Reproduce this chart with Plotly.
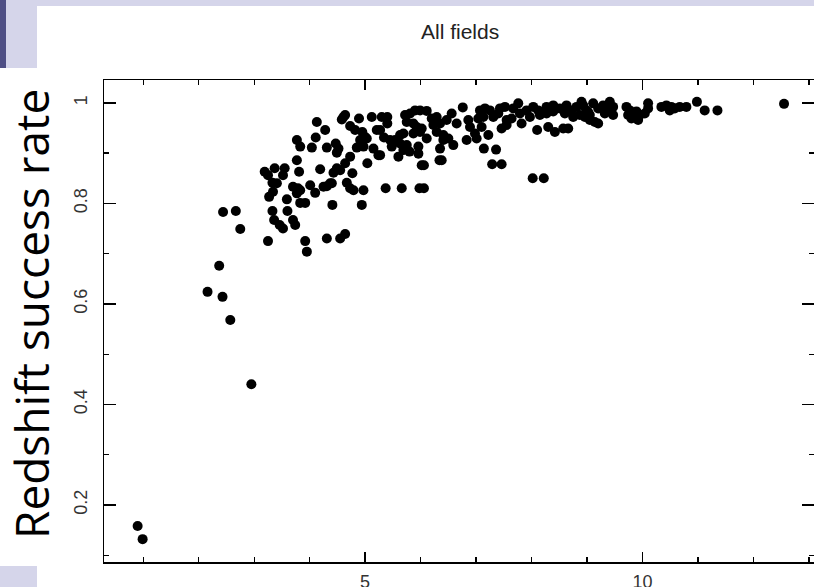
import plotly.graph_objects as go

# ---- data ----
x_vals = [
    0.90, 0.99,
    2.16, 2.37, 2.43, 2.57, 2.95, 2.44, 2.67, 2.75,
    3.25, 3.19, 3.37, 3.25, 3.55, 3.52, 3.33, 3.41, 3.27, 3.34, 3.59, 3.33, 3.60, 3.36, 3.46, 3.52,
    3.70, 3.74, 3.77, 3.81, 3.70, 3.79, 3.77, 3.83, 3.83, 3.92, 3.92, 3.95, 4.01, 4.10, 4.19, 4.31,
    4.55, 4.64, 4.41, 3.77, 3.83, 4.04, 4.11, 4.13, 4.28, 4.31, 4.47, 4.52, 4.49, 4.43, 4.49, 4.64,
    4.73, 4.31, 4.40, 4.67, 4.73, 4.79, 4.77, 4.97, 4.94, 4.58, 4.64, 4.73, 4.82, 4.89, 4.95, 5.03,
    4.85, 4.97, 5.12, 5.15, 5.04, 5.24, 5.21, 4.55, 4.37, 4.25, 4.61, 4.91, 5.00,
    5.37, 5.66, 5.98, 6.06, 6.02, 6.06, 6.34, 6.38, 5.27, 5.60, 5.30, 5.40, 5.27, 5.40, 5.34, 5.45,
    5.54, 5.63, 5.69, 5.48, 5.63, 5.75, 5.69, 5.80, 5.96, 5.96, 5.72, 5.81, 5.90, 5.99, 6.11, 5.75,
    5.87, 5.93, 6.02, 5.87, 5.99, 6.11, 6.20, 6.29, 6.23, 6.35, 6.29, 6.41, 6.35, 6.41, 6.50, 6.47,
    6.56, 6.59, 6.65, 6.76, 6.83, 6.86, 6.89, 6.98, 7.01, 7.07, 7.16, 7.25, 7.04, 7.13, 7.10, 7.14,
    7.36, 7.22, 7.29, 7.46, 7.31, 7.40, 7.43, 7.52, 7.46, 7.55, 7.55, 7.64, 7.67, 7.76, 7.79, 7.82,
    7.91, 7.97, 8.02, 8.22, 8.10, 8.03, 8.12, 8.15, 8.27, 8.39, 8.30, 8.42, 8.27, 8.39, 8.51, 8.60,
    8.57, 8.66, 8.63, 8.72, 8.81, 8.75, 8.87, 8.93, 8.99, 9.05, 9.14, 8.90,
    9.02, 8.96, 9.11, 9.20, 9.05, 9.20, 9.29, 9.41, 9.47, 9.47, 9.32, 9.38, 9.71, 9.77, 9.74, 9.83,
    9.92, 9.95, 10.04, 10.10, 10.10, 9.89, 9.80, 10.34, 10.43, 10.52, 10.49, 10.58, 10.67, 10.79,
    10.98, 11.12, 11.35, 12.55,
]
y_vals = [
    0.158, 0.132,
    0.624, 0.676, 0.614, 0.568, 0.440, 0.783, 0.785, 0.749,
    0.725, 0.863, 0.870, 0.856, 0.870, 0.856, 0.841, 0.840, 0.813, 0.823, 0.808, 0.785, 0.785, 0.767, 0.757, 0.750,
    0.767, 0.757, 0.886, 0.863, 0.833, 0.830, 0.820, 0.826, 0.801, 0.801, 0.725, 0.704, 0.836, 0.821, 0.868, 0.730,
    0.730, 0.739, 0.797, 0.926, 0.913, 0.911, 0.931, 0.962, 0.946, 0.911, 0.919, 0.909, 0.901, 0.861, 0.870, 0.880,
    0.893, 0.834, 0.840, 0.841, 0.830, 0.826, 0.860, 0.826, 0.797, 0.967, 0.976, 0.954, 0.946, 0.969, 0.942, 0.929,
    0.911, 0.913, 0.972, 0.909, 0.880, 0.896, 0.946, 0.866, 0.840, 0.833, 0.972, 0.926, 0.932,
    0.830, 0.830, 0.830, 0.830, 0.876, 0.876, 0.886, 0.886, 0.896, 0.893, 0.972, 0.972, 0.946, 0.959, 0.931, 0.926,
    0.926, 0.936, 0.939, 0.913, 0.919, 0.916, 0.906, 0.903, 0.913, 0.899, 0.976, 0.979, 0.985, 0.985, 0.984, 0.962,
    0.959, 0.952, 0.949, 0.939, 0.942, 0.929, 0.969, 0.972, 0.956, 0.959, 0.942, 0.936, 0.909, 0.926, 0.929, 0.966,
    0.979, 0.916, 0.959, 0.991, 0.926, 0.966, 0.952, 0.939, 0.929, 0.985, 0.989, 0.985, 0.969, 0.972, 0.952, 0.909,
    0.907, 0.936, 0.878, 0.878, 0.972, 0.979, 0.989, 0.992, 0.949, 0.956, 0.966, 0.969, 0.989, 0.999, 0.979, 0.959,
    0.985, 0.972, 0.850, 0.850, 0.946, 0.992, 0.985, 0.976, 0.979, 0.983, 0.952, 0.942, 0.992, 0.995, 0.989, 0.979,
    0.949, 0.949, 0.995, 0.985, 0.992, 0.972, 0.976, 0.995, 0.985, 0.976, 0.962, 1.002,
    0.982, 0.972, 0.999, 0.989, 0.966, 0.959, 0.995, 1.002, 0.992, 0.976, 0.979, 0.985, 0.992, 0.985, 0.976, 0.979,
    0.966, 0.976, 0.979, 0.999, 0.989, 0.983, 0.969, 0.992, 0.995, 0.992, 0.985, 0.989, 0.992, 0.992,
    1.002, 0.985, 0.985, 0.998,
]

title_text = "All fields"
y_title = "Redshift success rate"
x_tickvals = [5, 10]
x_ticktext = ["5", "10"]
y_tickvals = [0.2, 0.4, 0.6, 0.8, 1.0]
y_ticktext = ["0.2", "0.4", "0.6", "0.8", "1"]

W, H = 814, 587
L, R, T, B = 104, 0, 80, 25
pw, ph = W - L - R, H - T - B

def px(x):  # pixel -> paper x
    return (x - L) / pw

def py(y):  # pixel -> paper y
    return (H - B - y) / ph

fig = go.Figure()
fig.add_trace(go.Scatter(
    x=x_vals, y=y_vals, mode="markers",
    marker=dict(color="black", size=10, line=dict(width=0)),
    showlegend=False, hoverinfo="skip",
))

tickfont = dict(family="Liberation Sans, Arial, sans-serif", size=18, color="#333")

fig.update_layout(
    width=W, height=H,
    margin=dict(l=L, r=R, t=T, b=B, pad=0),
    paper_bgcolor="white", plot_bgcolor="white",
    xaxis=dict(
        range=[0.294, 13.09], showgrid=False, zeroline=False,
        showline=True, linecolor="black", linewidth=1.5, mirror="allticks",
        ticks="inside", ticklen=10, tickwidth=1.5, tickcolor="black",
        tickvals=x_tickvals, ticktext=x_ticktext, tickfont=tickfont,
        minor=dict(dtick=1, tick0=0, ticks="inside", ticklen=5, tickwidth=1.3, tickcolor="black", showgrid=False),
        automargin=False, ticklabelstandoff=3,
    ),
    yaxis=dict(
        range=[0.0865, 1.0455], showgrid=False, zeroline=False,
        showline=True, linecolor="black", linewidth=1.5, mirror="allticks",
        ticks="inside", ticklen=12, tickwidth=1.5, tickcolor="black",
        tickvals=y_tickvals, ticktext=y_ticktext, tickfont=tickfont, tickangle=-90,
        minor=dict(dtick=0.1, tick0=0, ticks="inside", ticklen=5, tickwidth=1.3, tickcolor="black", showgrid=False),
        automargin=False, ticklabelstandoff=8,
    ),
)

light = "#d5d5ea"
dark = "#4f4f85"
shapes = [
    dict(type="rect", xref="paper", yref="paper", x0=px(0), x1=px(W), y0=py(0), y1=py(6),
         fillcolor=light, line=dict(width=0), layer="above"),
    dict(type="rect", xref="paper", yref="paper", x0=px(0), x1=px(6), y0=py(0), y1=py(68),
         fillcolor=dark, line=dict(width=0), layer="above"),
    dict(type="rect", xref="paper", yref="paper", x0=px(6), x1=px(37), y0=py(6), y1=py(68),
         fillcolor=light, line=dict(width=0), layer="above"),
    dict(type="rect", xref="paper", yref="paper", x0=px(0), x1=px(37), y0=py(566), y1=py(H),
         fillcolor=light, line=dict(width=0), layer="above"),
]
fig.update_layout(shapes=shapes)

fig.add_annotation(
    text=title_text, xref="paper", yref="paper", x=px(460), y=py(32),
    xanchor="center", yanchor="middle", showarrow=False,
    font=dict(family="Liberation Sans, Arial, sans-serif", size=21, color="#222"),
)
fig.add_annotation(
    text=y_title, xref="paper", yref="paper", x=px(31), y=py(314),
    xanchor="center", yanchor="middle", showarrow=False, textangle=-90,
    font=dict(family="Open Sans, sans-serif", size=46, color="black"),
)

fig.write_html(
    "out.html",
    config={"displayModeBar": False, "staticPlot": True},
    post_script="document.body.style.margin='0';document.body.style.overflow='hidden';",
)
